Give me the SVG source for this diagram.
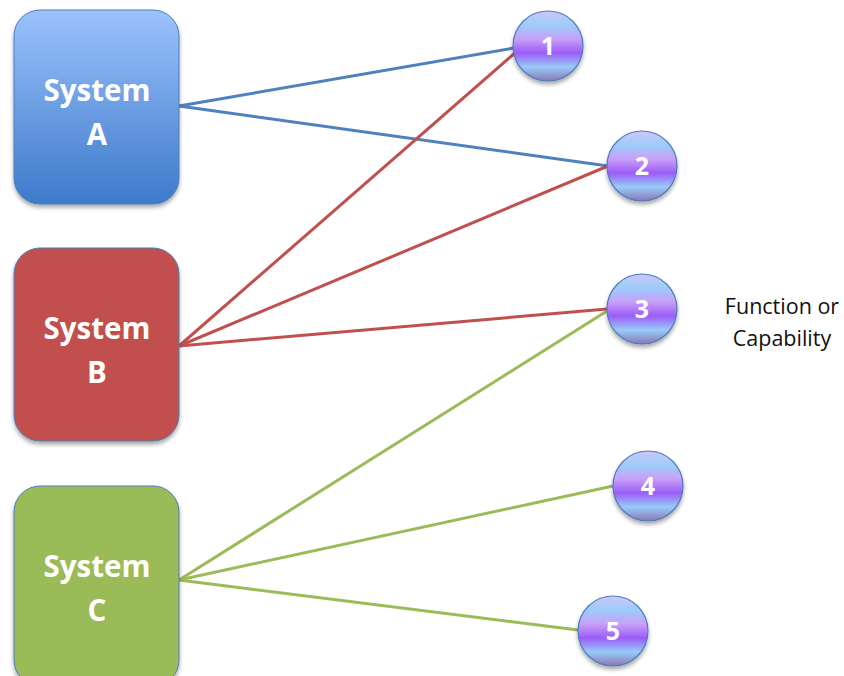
<svg xmlns="http://www.w3.org/2000/svg" width="844" height="676" viewBox="0 0 844 676">
<style>
.sys{font-family:"Open Sans","Liberation Sans",sans-serif;font-weight:bold;font-size:29.5px;fill:#fff;text-anchor:middle}
.num{font-family:"Open Sans","Liberation Sans",sans-serif;font-weight:bold;font-size:25px;fill:#fff;text-anchor:middle}
.lbl{font-family:"Open Sans","Liberation Sans",sans-serif;font-size:21.5px;fill:#111;text-anchor:middle}
.circ{fill:url(#cg);stroke:#4a7ebb;stroke-width:1.2;filter:url(#sh)}
.box{stroke:#4a7ebb;stroke-width:1;filter:url(#sh)}
.ln{stroke-width:3;fill:none}
</style>
<defs>
<linearGradient id="ga" x1="0" y1="0" x2="0" y2="1">
<stop offset="0" stop-color="#9bc2fb"/>
<stop offset="1" stop-color="#3d7acb"/>
</linearGradient>
<linearGradient id="cg" x1="0" y1="0" x2="0" y2="1">
<stop offset="0" stop-color="#cfc6fa"/>
<stop offset="0.2" stop-color="#9ccdf9"/>
<stop offset="0.4" stop-color="#c99ff9"/>
<stop offset="0.6" stop-color="#9b5cf7"/>
<stop offset="0.8" stop-color="#98cbf8"/>
<stop offset="1" stop-color="#8a76b5"/>
</linearGradient>
<filter id="sh" x="-20%" y="-20%" width="140%" height="140%">
<feGaussianBlur in="SourceAlpha" stdDeviation="2"/>
<feOffset dy="3" result="b"/>
<feComponentTransfer><feFuncA type="linear" slope="0.35"/></feComponentTransfer>
<feMerge><feMergeNode/><feMergeNode in="SourceGraphic"/></feMerge>
</filter>
</defs>
<g id="connectors">
<line class="ln" stroke="#4f81bd" x1="179" y1="106" x2="514" y2="48"/>
<line class="ln" stroke="#4f81bd" x1="179" y1="106" x2="608" y2="166"/>
<line class="ln" stroke="#c0504d" x1="179" y1="346" x2="516" y2="52"/>
<line class="ln" stroke="#c0504d" x1="179" y1="346" x2="608" y2="166"/>
<line class="ln" stroke="#c0504d" x1="179" y1="346" x2="607" y2="309"/>
<line class="ln" stroke="#9bbb59" x1="179" y1="580" x2="607" y2="311"/>
<line class="ln" stroke="#9bbb59" x1="179" y1="580" x2="613" y2="486"/>
<line class="ln" stroke="#9bbb59" x1="179" y1="580" x2="578" y2="630"/>
</g>
<g id="systemA">
<rect class="box" x="14" y="10" width="165" height="194" rx="26" fill="url(#ga)"/>
<text class="sys" x="97" y="101">System</text>
<text class="sys" x="97" y="145">A</text>
</g>
<g id="systemB">
<rect class="box" x="14" y="248" width="165" height="193" rx="26" fill="#c0504d"/>
<text class="sys" x="97" y="339">System</text>
<text class="sys" x="97" y="383">B</text>
</g>
<g id="systemC">
<rect class="box" x="14" y="486" width="165" height="200" rx="26" fill="#9bbb59"/>
<text class="sys" x="97" y="577">System</text>
<text class="sys" x="97" y="621">C</text>
</g>
<g id="n1"><circle class="circ" cx="548" cy="46" r="35"/><text class="num" x="548" y="55">1</text></g>
<g id="n2"><circle class="circ" cx="642" cy="166" r="35"/><text class="num" x="642" y="175">2</text></g>
<g id="n3"><circle class="circ" cx="642" cy="309" r="35"/><text class="num" x="642" y="318">3</text></g>
<g id="n4"><circle class="circ" cx="648" cy="486" r="35"/><text class="num" x="648" y="495">4</text></g>
<g id="n5"><circle class="circ" cx="613" cy="631" r="35"/><text class="num" x="613" y="640">5</text></g>
<g id="label">
<text class="lbl" x="782" y="314">Function or</text>
<text class="lbl" x="782" y="346">Capability</text>
</g>
</svg>
